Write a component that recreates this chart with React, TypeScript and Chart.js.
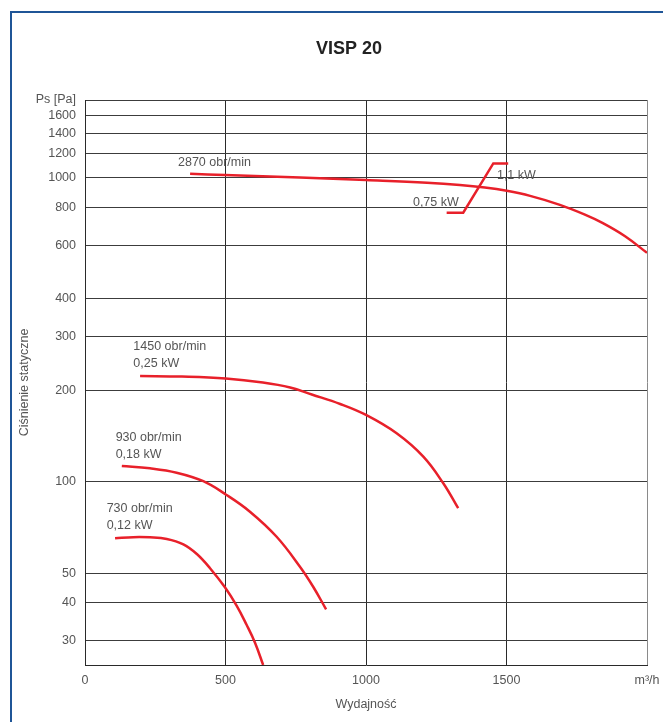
import React, { useEffect, useRef } from 'react';
import { Chart, registerables } from 'chart.js';

Chart.register(...registerables);

const chartTitle = 'VISP 20';
const xAxisTitle = 'Wydajność';
const yAxisTitle = 'Ciśnienie statyczne';

const xTickValues = [0, 500, 1000, 1500, 2000];
const xTickLabels = ['0', '500', '1000', '1500', 'm³/h'];
const yTickValues = [1800, 1600, 1400, 1200, 1000, 800, 600, 400, 300, 200, 100, 50, 40, 30];
const yTickLabels = ['Ps [Pa]', '1600', '1400', '1200', '1000', '800', '600', '400', '300', '200', '100', '50', '40', '30'];

// 2870 obr/min
const flow2870 = [374, 498, 765, 1000, 1217, 1334, 1423, 1501, 1584, 1690, 1779, 1843, 1922, 2000];
const ps2870 = [1030, 1020, 1002, 982, 962, 946, 928, 905, 871, 814, 756, 709, 642, 566];

// 1450 obr/min
const flow1450 = [196, 345, 501, 633, 730, 807, 908, 1000, 1109, 1204, 1275, 1328];
const ps1450 = [222.8, 221.8, 218.6, 212.1, 204.3, 193.7, 180.3, 165.9, 144.4, 121, 98.9, 81.9];

// 930 obr/min
const flow930 = [131, 231, 326, 421, 501, 587, 682, 765, 812, 858];
const ps930 = [112.8, 110.8, 107.2, 100.5, 90.9, 79.8, 66, 52.6, 45.2, 38.1];

// 730 obr/min
const flow730 = [107, 172, 231, 291, 350, 398, 445, 498, 540, 575, 605, 634];
const ps730 = [65.2, 65.8, 65.7, 64.9, 62.3, 57.9, 52, 45, 39.1, 33.9, 29.6, 25];

// motor power step 0,75 kW -> 1,1 kW
const flowPower = [1287, 1346, 1453, 1506];
const psPower = [767, 767, 1114, 1114];

// curve notes
const noteTexts = ['2870 obr/min', '0,75 kW', '1,1 kW', '1450 obr/min', '0,25 kW', '930 obr/min', '0,18 kW', '730 obr/min', '0,12 kW'];
const noteFlow = [331, 1167, 1466, 172, 172, 109, 109, 77, 77];
const notePs = [1125, 831, 1017, 278, 245, 140, 123.4, 82, 72];

const FONT = '"Liberation Sans", Arial, sans-serif';
const RED = '#e8202a';

const toPoints = (xs: number[], ys: number[]) => xs.map((x, i) => ({ x, y: ys[i] }));

const notesPlugin = {
  id: 'notes',
  afterDatasetsDraw(chart: any) {
    const { ctx, scales } = chart;
    const xs = scales.x;
    const ys = scales.y;
    ctx.save();
    ctx.font = `12.5px ${FONT}`;
    ctx.fillStyle = '#555555';
    ctx.textAlign = 'left';
    ctx.textBaseline = 'middle';
    noteTexts.forEach((t, i) => {
      ctx.fillText(t, xs.getPixelForValue(noteFlow[i]), ys.getPixelForValue(notePs[i]));
    });
    ctx.font = `bold 18px ${FONT}`;
    ctx.fillStyle = '#222222';
    ctx.textAlign = 'center';
    ctx.fillText(chartTitle, 349, 49);
    ctx.restore();
  },
};

export default function App() {
  const canvasRef = useRef<HTMLCanvasElement | null>(null);

  useEffect(() => {
    if (!canvasRef.current) return;
    const lineDs = (label: string, xs: number[], ys: number[], smooth: boolean) => ({
      label,
      data: toPoints(xs, ys),
      borderColor: RED,
      backgroundColor: RED,
      borderWidth: 2.5,
      pointRadius: 0,
      fill: false,
      tension: smooth ? 0.4 : 0,
    });
    const chart = new Chart(canvasRef.current, {
      type: 'line',
      data: {
        datasets: [
          lineDs('2870 obr/min', flow2870, ps2870, true),
          lineDs('1450 obr/min', flow1450, ps1450, true),
          lineDs('930 obr/min', flow930, ps930, true),
          lineDs('730 obr/min', flow730, ps730, true),
          lineDs('Moc', flowPower, psPower, false),
        ] as any,
      },
      options: {
        responsive: false,
        animation: false,
        layout: { padding: { top: 100, right: 16, bottom: 0, left: 0 } },
        plugins: {
          legend: { display: false },
          tooltip: { enabled: false },
          title: { display: false },
        },
        scales: {
          x: {
            type: 'linear',
            min: 0,
            max: 2000,
            afterFit: (s: any) => {
              s.height = 57;
              s.paddingLeft = 0;
              s.paddingRight = 0;
            },
            afterBuildTicks: (s: any) => { s.ticks = xTickValues.map((v) => ({ value: v })); },
            ticks: {
              autoSkip: false,
              maxRotation: 0,
              padding: 8,
              color: '#555555',
              font: { family: FONT, size: 12.5 },
              callback: (v: any) => {
                const i = xTickValues.indexOf(Number(v));
                return i >= 0 ? xTickLabels[i] : '';
              },
            },
            grid: {
              drawTicks: false,
              color: (c: any) => (c.tick && c.tick.value === 2000 ? '#8a8a8a' : '#2a2a2a'),
              lineWidth: 1,
            },
            border: { display: true, color: '#2a2a2a', width: 1 },
            title: {
              display: true,
              text: xAxisTitle,
              color: '#555555',
              font: { family: FONT, size: 12.5 },
              padding: { top: 0, bottom: 10 },
            },
          },
          y: {
            type: 'logarithmic',
            min: 25,
            max: 1800,
            afterFit: (s: any) => {
              s.width = 85;
              s.paddingTop = 0;
              s.paddingBottom = 0;
            },
            afterBuildTicks: (s: any) => { s.ticks = yTickValues.map((v) => ({ value: v })); },
            ticks: {
              autoSkip: false,
              padding: 9,
              color: '#555555',
              font: { family: FONT, size: 12.5 },
              callback: (v: any) => {
                const i = yTickValues.indexOf(Number(v));
                return i >= 0 ? yTickLabels[i] : '';
              },
            },
            grid: { drawTicks: false, color: '#3c3c3c', lineWidth: 1 },
            border: { display: true, color: '#2a2a2a', width: 1 },
            title: {
              display: true,
              text: yAxisTitle,
              color: '#555555',
              font: { family: FONT, size: 12.5 },
              padding: { top: 17, bottom: 0 },
            },
          },
        },
      } as any,
      plugins: [notesPlugin],
    });
    return () => chart.destroy();
  }, []);

  return (
    <div style={{ position: 'absolute', left: 0, top: 0, width: 663, height: 722, overflow: 'hidden', background: '#ffffff' }}>
      <div
        style={{
          position: 'absolute',
          left: 10,
          top: 11,
          width: 740,
          height: 800,
          border: '2px solid #1f5597',
          boxSizing: 'border-box',
        }}
      />
      <canvas
        ref={canvasRef}
        width={663}
        height={722}
        style={{ position: 'absolute', left: 0, top: 0, width: 663, height: 722 }}
      />
    </div>
  );
}
